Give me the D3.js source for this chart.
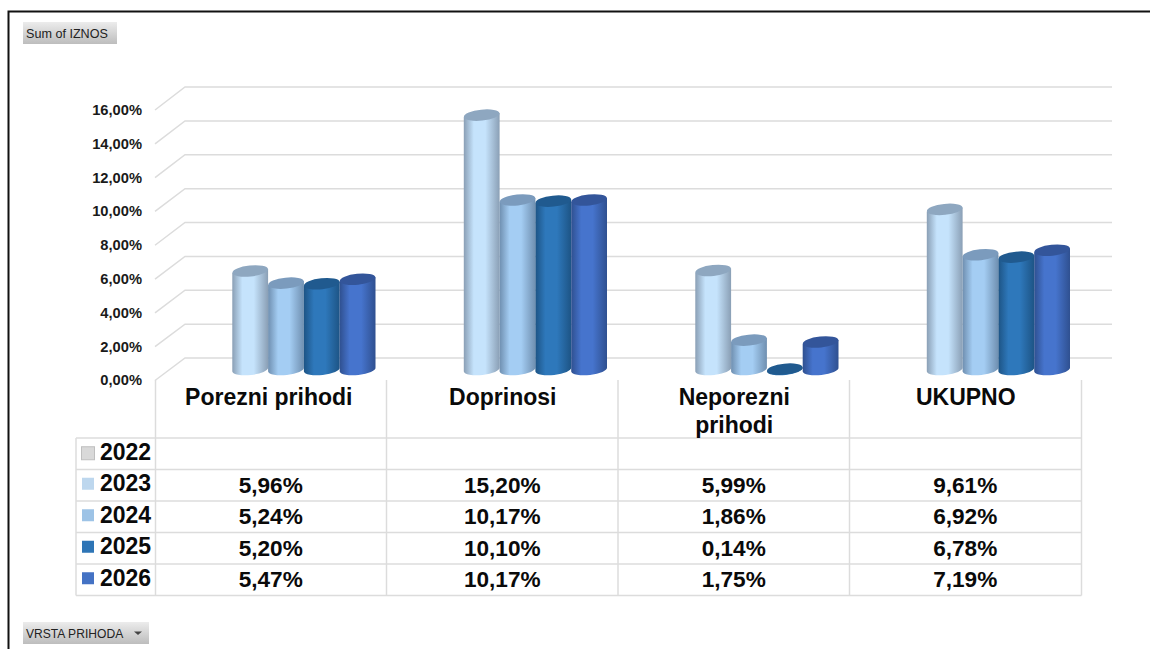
<!DOCTYPE html>
<html><head><meta charset="utf-8">
<script src="https://cdn.jsdelivr.net/npm/d3@7"></script>
<style>html,body{margin:0;padding:0;background:#fff;overflow:hidden}svg{display:block}text{font-family:"Liberation Sans",Arial,sans-serif}</style>
</head><body><svg id="c" width="1150" height="649"></svg>
<script>
const categories = ["Porezni prihodi","Doprinosi","Neporezni prihodi","UKUPNO"];
const years = ["2022","2023","2024","2025","2026"];
const v2022 = [null,null,null,null];
const v2023 = [5.96,15.20,5.99,9.61];
const v2024 = [5.24,10.17,1.86,6.92];
const v2025 = [5.20,10.10,0.14,6.78];
const v2026 = [5.47,10.17,1.75,7.19];
const series = [v2022,v2023,v2024,v2025,v2026];
const yTicks = [0,2,4,6,8,10,12,14,16];
const keyColors = ["#d9d9d9","#bdd7ee","#9dc3e6","#2e75b6","#4472c4"];
const edgeColors = ["#aaa","#8a9fb5","#6f8fb0","#1d5485","#2f5090"];
const midColors = ["#ddd","#c5e3fc","#a4cdf3","#2e78bb","#4674cd"];
const topColors = ["#bbb","#8ea7c0","#7b9bbd","#205a8f","#33559a"];

const svg = d3.select("#c");
const fmt = v => v.toFixed(2).replace(".",",")+"%";
const grid = "#dcdcdc";
const defs = svg.append("defs");
years.forEach((y,i)=>{
  const g = defs.append("linearGradient").attr("id","g"+y);
  [[0,edgeColors[i]],[.28,midColors[i]],[.6,midColors[i]],[1,edgeColors[i]]].forEach(s=>g.append("stop").attr("offset",s[0]).attr("stop-color",s[1]));
});
const bg = defs.append("linearGradient").attr("id","btn").attr("x1",0).attr("x2",0).attr("y1",0).attr("y2",1);
bg.append("stop").attr("offset",0).attr("stop-color","#ececec");
bg.append("stop").attr("offset",1).attr("stop-color","#bdbdbd");

// frame
svg.append("path").attr("d","M1150,11.5H8.5V649").attr("fill","none").attr("stroke","#111").attr("stroke-width",2);

// scales
const yFront = d3.scaleLinear().domain([0,16]).range([380.5,110]);
const yBack = d3.scaleLinear().domain([0,16]).range([358,87]);
const yBar = d3.scaleLinear().domain([0,16]).range([371.5,101.6]);
const x0 = d3.scaleBand().domain(categories).range([155.5,1081.5]);
const x1 = d3.scaleBand().domain(years).range([41,220]);

// walls
const wall = svg.append("g").attr("fill","none").attr("stroke",grid).attr("stroke-width",1.5);
yTicks.forEach(t=>{
  wall.append("path").attr("d",`M155,${yFront(t)}L185,${yBack(t)}H1112`);
});

// y axis
const axis = d3.axisLeft(yFront).tickValues(yTicks).tickFormat(fmt).tickSize(0).tickPadding(0);
const ag = svg.append("g").attr("transform","translate(142,0)").call(axis);
ag.select(".domain").remove();
ag.selectAll("text").attr("font-size",14.7).attr("font-weight","bold").attr("fill","#1a1a1a").attr("dy","0.3em").style("font-family",'"Liberation Sans",Arial,sans-serif');

// cylinders
const rx = x1.bandwidth()/2, ry = 5.5, tilt = 2;
const bars = svg.append("g");
categories.forEach((c,ci)=>{
  years.forEach((yr,si)=>{
    const v = series[si][ci];
    if(v==null) return;
    const cx = x0(c)+x1(yr)+rx;
    const ty = yBar(v), by = Math.max(ty, yBar(0)-2);
    const l = cx-rx, r = cx+rx;
    const arcs = `A${rx},${ry} -6 0 0 ${r},${by-tilt}`;
    bars.append("path")
      .attr("d",`M${l},${ty+tilt}L${l},${by+tilt}${arcs}L${r},${ty-tilt}Z`)
      .attr("fill",`url(#g${yr})`);
    bars.append("ellipse").attr("cx",cx).attr("cy",ty).attr("rx",rx).attr("ry",ry)
      .attr("transform",`rotate(-6 ${cx} ${ty})`).attr("fill",topColors[si]);
  });
});

// table
const rows = [438,469.5,501,532.5,564,595.5];
const colX = [155.5,386.5,618,849.5,1081.5];
const t = svg.append("g").attr("stroke",grid).attr("stroke-width",1.5);
rows.forEach(y=>t.append("line").attr("x1",76).attr("x2",1081.5).attr("y1",y).attr("y2",y));
colX.forEach(x=>t.append("line").attr("x1",x).attr("x2",x).attr("y1",380).attr("y2",595.5));
t.append("line").attr("x1",76).attr("x2",76).attr("y1",438).attr("y2",595.5);

// category headers
const cols = x0.bandwidth();
categories.forEach((c,ci)=>{
  const te = svg.append("text").attr("text-anchor","middle").attr("font-size",23).attr("font-weight","bold").attr("fill","#0a0a0a");
  const cx = x0(c)+cols/2-(ci===0?2.5:0);
  const words = c.split(" ");
  let line=[], n=0, ts=te.append("tspan").attr("x",cx).attr("y",405);
  words.forEach(w=>{
    line.push(w); ts.text(line.join(" "));
    if(ts.node().getComputedTextLength()>180 && line.length>1){
      line.pop(); ts.text(line.join(" ")); line=[w]; n++;
      ts = te.append("tspan").attr("x",cx).attr("y",405+n*28).text(w);
    }
  });
});

// rows
const rowY = d3.scaleBand().domain(years).range([438,595.5]);
years.forEach((yr,si)=>{
  const cy = rowY(yr)+rowY.bandwidth()/2;
  svg.append("rect").attr("x",si==0?81.5:82).attr("y",cy-6.5-(si==0?0.5:1)).attr("width",si==0?13:12).attr("height",si==0?13:12)
    .attr("fill",keyColors[si]).attr("stroke",si==0?"#bfbfbf":"none").attr("stroke-width",1);
  svg.append("text").attr("x",100).attr("y",cy+6).attr("font-size",23).attr("font-weight","bold").attr("fill","#0a0a0a").text(yr);
  categories.forEach((c,ci)=>{
    const v = series[si][ci];
    if(v==null) return;
    svg.append("text").attr("x",x0(c)+cols/2-0.5).attr("y",cy+7.5).attr("text-anchor","middle").attr("font-size",22.6).attr("font-weight","bold").attr("fill","#0a0a0a").text(fmt(v));
  });
});

// field buttons
function btn(x,y,w,h,label,fs){
  svg.append("rect").attr("x",x).attr("y",y).attr("width",w).attr("height",h).attr("fill","url(#btn)");
  svg.append("text").attr("x",x+3).attr("y",y+15.5).attr("font-size",fs).attr("fill","#222").text(label);
}
btn(23,22,94,22,"Sum of IZNOS",12.6);
btn(23,622,126,22,"VRSTA PRIHODA",12.1);
svg.append("path").attr("d","M134,631.5h8l-4,3.5z").attr("fill","#444");
</script></body></html>
